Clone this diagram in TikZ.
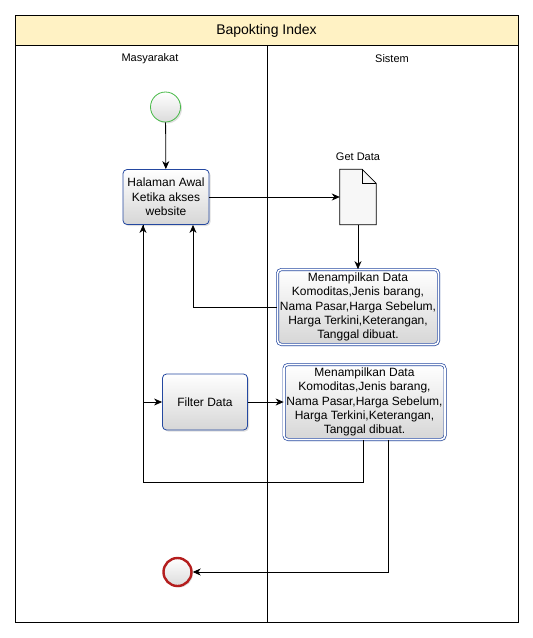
\documentclass[tikz,border=0pt]{standalone}
\usepackage{fontspec}
\setmainfont{Liberation Sans}
\usetikzlibrary{arrows.meta,shadows}

\definecolor{boxblue}{RGB}{36,72,160}
\definecolor{startgreen}{RGB}{70,185,70}
\definecolor{endred}{RGB}{180,30,30}
\definecolor{titleyellow}{RGB}{255,242,196}

\tikzset{
    flow/.style={-{Stealth[length=8pt,width=7pt,inset=2.5pt]}, line width=0.8pt},
    actbox/.style={rectangle, rounded corners=4pt, draw=boxblue, line width=0.8pt,
        top color=white, bottom color=black!16, align=center, inner sep=0pt,
        font=\fontsize{12}{14.4}\selectfont,
        drop shadow={shadow xshift=1.5pt, shadow yshift=-1.5pt, opacity=0.25}},
    databox/.style={actbox, double=white, double distance=1.6pt, line width=0.7pt},
    event/.style={circle, inner sep=0pt, minimum size=30pt,
        top color=white, bottom color=black!14,
        drop shadow={shadow xshift=1.5pt, shadow yshift=-1.5pt, opacity=0.25}},
    lanetitle/.style={font=\fontsize{11}{13}\selectfont}
}

\begin{document}
\begin{tikzpicture}[x=1pt, y=-1pt]
    \useasboundingbox (0,0) rectangle (533,638);

    % pool and lanes
    \fill[titleyellow] (15,15) rectangle (518,45);
    \draw[line width=0.8pt] (15,15) rectangle (518,622);
    \draw[line width=0.8pt] (15,45) -- (518,45);
    \draw[line width=0.8pt] (267,45) -- (267,622);
    \node[font=\fontsize{14}{16}\selectfont] (pool) at (266.5,31) {Bapokting Index};
    \node[lanetitle] (masy) at (150,59) {Masyarakat};
    \node[lanetitle] (sis) at (392,59) {Sistem};

    % nodes
    \node[event, draw=startgreen, line width=0.8pt] (start) at (165.5,107) {};
    \node[actbox, minimum width=86pt, minimum height=55pt] (home) at (166,197) {Halaman Awal\\Ketika akses\\website};
    \node[minimum width=36pt, minimum height=55pt, inner sep=0pt] (getdata) at (358,197) {};
    \node[lanetitle] (getlabel) at (358,157) {Get Data};
    \node[databox, minimum width=161pt, minimum height=75pt] (show) at (358,307) {Menampilkan Data\\Komoditas,Jenis barang,\\Nama Pasar,Harga Sebelum,\\Harga Terkini,Keterangan,\\Tanggal dibuat.};
    \node[actbox, minimum width=85pt, minimum height=56pt] (filter) at (205,402) {Filter Data};
    \node[databox, minimum width=161pt, minimum height=75pt] (result) at (364.5,402) {Menampilkan Data\\Komoditas,Jenis barang,\\Nama Pasar,Harga Sebelum,\\Harga Terkini,Keterangan,\\Tanggal dibuat.};
    \node[event, draw=endred, line width=2.4pt, minimum size=28pt] (end) at (177.5,572) {};
    \coordinate (backturn) at (143,482);

    % document shape
    \draw[fill=black!3, line width=0.8pt] (getdata.north west) -- ([xshift=-14pt]getdata.north east)
        -- ([yshift=-14pt]getdata.north east) -- (getdata.south east)
        -- (getdata.south west) -- cycle;
    \draw[line width=0.8pt] ([xshift=-14pt]getdata.north east) -- ([xshift=-14pt, yshift=-14pt]getdata.north east)
        -- ([yshift=-14pt]getdata.north east);

    % connectors
    \draw[flow] (start) -- (home);
    \draw[flow] (home) -- (getdata);
    \draw[flow] (getdata) -- (show);
    \draw[flow] (show.west) -| ([xshift=27pt]home.south);
    \draw[flow] ([xshift=-23pt]home.south) |- (filter.west);
    \draw[flow] (filter) -- (result);
    \draw[flow] ([xshift=-1.5pt]result.south) |- (backturn) -- ([xshift=-23pt]home.south);
    \draw[flow] ([xshift=23.5pt]result.south) |- (end.east);
\end{tikzpicture}
\end{document}
